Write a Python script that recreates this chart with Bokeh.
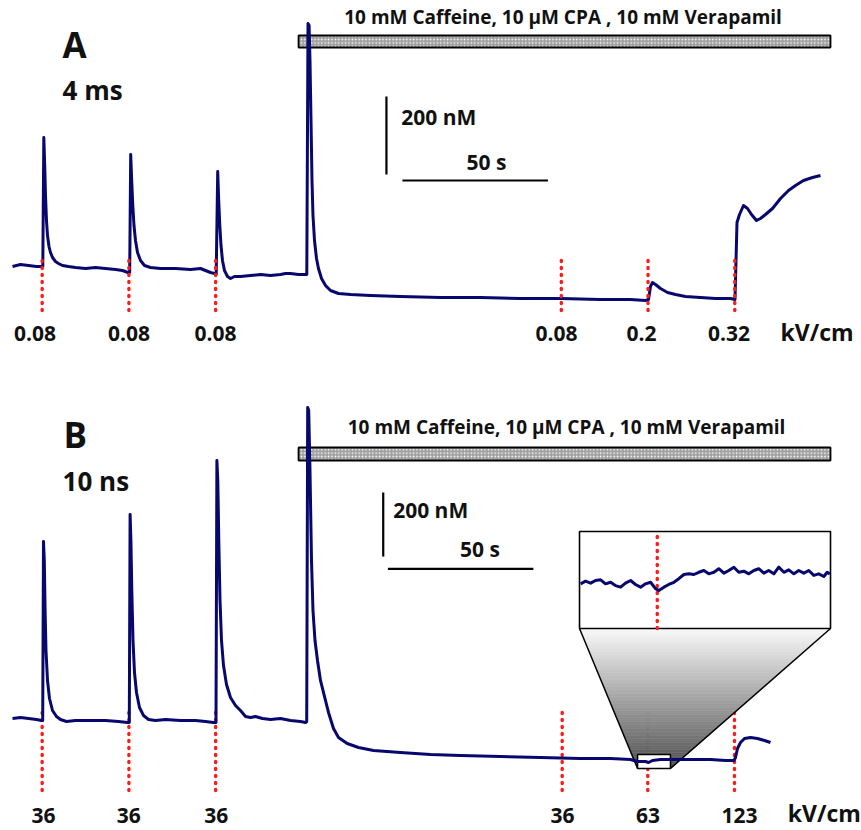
from bokeh.plotting import figure
from bokeh.layouts import column
from bokeh.models import Range1d, ColumnDataSource
from bokeh.core.properties import value
from bokeh.embed import file_html
from bokeh.resources import INLINE

# ---------------- data (time in s, [Ca2+] in nM) ----------------
A_T = [0.00, 2.75, 5.50, 8.25, 9.97, 10.41, 10.76, 11.07, 11.34, 11.68, 12.03, 12.54, 13.06, 13.75,
       14.78, 15.81, 17.18, 19.24, 21.65, 25.09, 28.52, 31.96, 35.40, 37.80, 39.69, 40.27, 40.62,
       40.96, 41.34, 41.75, 42.27, 42.96, 43.99, 45.36, 47.42, 50.86, 56.01, 61.17, 64.60, 68.04,
       69.42, 70.00, 70.52, 70.86, 71.24, 71.65, 72.16, 72.85, 73.88, 74.91, 76.29, 78.35, 81.79,
       85.22, 88.66, 92.10, 93.81, 95.53, 98.28, 100.69, 101.13, 101.55, 101.92, 102.23, 102.58,
       102.92, 103.26, 103.78, 104.47, 105.15, 106.19, 107.56, 109.28, 112.03, 116.15, 123.02,
       133.33, 147.08, 160.82, 174.57, 188.32, 202.06, 212.37, 217.53, 218.56, 219.24, 219.93,
       220.96, 222.68, 225.09, 227.84, 231.27, 236.43, 241.58, 246.74, 248.28, 248.63, 248.97,
       249.83, 251.20, 252.58, 253.95, 255.67, 257.04, 258.76, 261.17, 263.92, 266.67, 269.07,
       271.82, 274.91, 277.66]
A_CA = [150.0, 155.1, 152.6, 150.0, 150.0, 150.0, 480.8, 409.0, 332.0, 267.9, 229.5, 201.3, 185.9, 173.1,
        162.8, 157.7, 152.6, 150.0, 147.4, 144.9, 147.4, 144.9, 142.3, 139.7, 134.6, 134.6, 437.2,
        370.5, 306.4, 255.1, 216.7, 185.9, 165.4, 152.6, 147.4, 144.9, 144.9, 142.3, 144.9, 134.6,
        132.1, 129.5, 393.6, 319.2, 255.1, 203.8, 165.4, 139.7, 124.4, 119.2, 124.4, 124.4, 126.9,
        129.5, 126.9, 129.5, 132.1, 132.1, 129.5, 129.5, 129.5, 773.1, 767.9, 678.2, 524.3,
        370.5, 280.8, 216.7, 170.5, 144.9, 119.2, 101.3, 88.5, 80.8, 78.2, 75.6,
        73.1, 70.5, 70.5, 67.9, 67.9, 65.4, 65.4, 62.8, 65.4, 98.7, 109.0,
        103.8, 93.6, 83.3, 78.2, 73.1, 70.5, 67.9, 67.9, 65.4, 165.4, 262.8,
        283.3, 306.4, 298.7, 283.3, 267.9, 273.1, 283.3, 298.7, 324.4, 344.9, 357.7,
        370.5, 378.2, 383.3]

B_T = [0.00, 2.75, 5.50, 8.25, 9.97, 10.38, 10.65, 10.93, 11.20, 11.51, 12.03, 12.71, 13.75, 15.12,
       16.49, 18.56, 21.65, 26.80, 31.96, 36.43, 39.52, 40.14, 40.41, 40.69, 41.00, 41.41, 41.92,
       42.61, 43.64, 45.02, 46.74, 49.14, 52.58, 57.73, 62.89, 66.32, 69.07, 69.93, 70.24, 70.55,
       70.89, 71.31, 71.82, 72.51, 73.54, 74.91, 76.63, 78.35, 80.07, 81.79, 83.51, 85.91, 88.66,
       92.10, 95.53, 98.97, 100.69, 101.10, 101.44, 101.79, 102.23, 102.75, 103.26, 103.95,
       104.81, 105.84, 106.97, 108.59, 110.31, 112.03, 115.02, 118.90, 124.05, 133.33, 143.64,
       153.95, 167.70, 181.44, 195.19, 205.50, 212.37, 214.78, 217.53, 218.56, 219.93, 222.68,
       226.12, 233.00, 239.86, 245.02, 247.94, 248.45, 249.14, 250.17, 251.55, 253.61, 256.01,
       258.42, 260.48]
B_CA = [200.0, 203.1, 200.0, 196.9, 193.8, 193.8, 753.1, 693.8, 537.5, 412.5, 318.8, 262.5, 225.0, 206.3,
        196.9, 190.6, 193.8, 193.8, 193.8, 190.6, 187.5, 187.5, 837.5, 756.3, 600.0, 443.8, 343.8,
        281.3, 234.4, 209.4, 196.9, 193.8, 196.9, 193.8, 193.8, 190.6, 187.5, 187.5, 1006.3, 943.8,
        756.3, 568.8, 443.8, 365.6, 306.3, 265.6, 240.6, 225.0, 206.3, 203.1, 206.3, 200.0, 196.9,
        200.0, 193.8, 190.6, 187.5, 190.6, 1171.9, 1162.5, 975.0, 693.8, 537.5, 443.8,
        381.3, 318.8, 278.1, 218.8, 168.8, 140.6, 121.9, 109.4, 100.0, 93.8, 87.5,
        84.4, 81.3, 78.1, 75.0, 75.0, 71.9, 65.6, 65.6, 62.5, 68.8, 71.9,
        71.9, 71.9, 71.9, 68.8, 68.8, 78.1, 106.3, 125.0, 137.5, 140.6, 137.5,
        131.3, 125.0]

# magnified detail around the 63 kV/cm pulse (panel B)
INSET_T = [214.85, 215.07, 215.30, 215.52, 215.75, 215.97, 216.20, 216.42, 216.65, 216.87, 217.10,
           217.32, 217.55, 217.77, 218.00, 218.22, 218.37, 218.60, 218.82, 219.05, 219.27, 219.50,
           219.72, 219.95, 220.17, 220.40, 220.62, 220.85, 221.07, 221.30, 221.52, 221.75, 221.97,
           222.20, 222.42, 222.65, 222.87, 223.10, 223.32, 223.55, 223.77, 224.00, 224.22, 224.45,
           224.67, 224.90, 225.12, 225.35, 225.57, 225.80, 225.95, 226.07]
INSET_CA = [63.9, 65.1, 64.2, 65.4, 65.7, 63.9, 64.6, 63.1, 62.4, 64.2, 65.4, 63.6, 62.4, 63.9, 64.6,
            61.7, 60.9, 62.4, 63.6, 64.6, 66.2, 68.1, 68.4, 68.1, 69.1, 69.9, 68.4, 69.1, 70.7, 68.7,
            69.9, 71.4, 69.1, 69.6, 68.4, 69.9, 70.7, 68.7, 69.9, 68.4, 71.4, 69.1, 70.2, 68.4, 69.9,
            68.7, 69.9, 67.7, 68.4, 67.2, 69.1, 68.4]

STIM_A_T = [10.2, 40.0, 69.8, 188.6, 218.4, 248.2]
STIM_B_T = [10.2, 40.0, 69.8, 188.9, 218.3, 248.1]
A_LABELS = ["0.08", "0.08", "0.08", "0.08", "0.2", "0.32"]
B_LABELS = ["36", "36", "36", "36", "63", "123"]
A_LABEL_T = [7.73, 40.03, 69.76, 186.94, 216.15, 246.22]
B_LABEL_T = [10.65, 39.97, 70.03, 189.0, 218.4, 249.8]
DRUG_TEXT = "10 mM Caffeine, 10 \u00b5M CPA , 10 mM Verapamil"
UNIT_TEXT = "kV/cm"

# ---------------- layout / style ----------------
W = 860
HA, HB = 383, 446
X0 = -4.1237
X1 = X0 + W / 2.91
A_Y = (-150.0, 832.05)
B_Y = (-146.875, 1246.875)
NAVY = "#07076e"
RED = "#ff1a1a"
FONT = value("Open Sans")


def make_fig(h, yr):
    p = figure(width=W, height=h, x_range=Range1d(X0, X1), y_range=Range1d(*yr),
               output_backend="svg", toolbar_location=None,
               x_axis_location=None, y_axis_location=None, min_border=0)
    p.grid.visible = False
    p.outline_line_color = None
    p.background_fill_color = "white"
    p.border_fill_color = "white"
    return p


def lift(p, size):
    # small baseline correction (pixels -> data units)
    py = p.height / (p.y_range.end - p.y_range.start)
    return (0.3 * size + 2.0) / py


def txt(p, x, y, s, size, align="left"):
    p.text(x=[x], y=[y + lift(p, size)], text=[s], text_font=FONT, text_font_style="bold",
           text_font_size=f"{size}px", text_align=align, text_baseline="alphabetic",
           text_color="#111111")


def labels(p, xs, y, texts, size):
    src = ColumnDataSource(dict(x=xs, y=[y + lift(p, size)] * len(xs), t=texts))
    p.text(x="x", y="y", text="t", source=src, text_font=FONT, text_font_style="bold",
           text_font_size=f"{size}px", text_align="center", text_baseline="alphabetic",
           text_color="#111111")


def drug_bar(p, bottom, top):
    p.quad(left=[98.3], right=[281.1], bottom=[bottom], top=[top],
           fill_color="#a0a0a0", hatch_pattern="dot", hatch_color="white",
           hatch_scale=3.4, hatch_weight=2.4, line_color="black", line_width=1.8)


def stim_lines(p, xs, y0, y1, **kw):
    p.segment(x0=xs, y0=[y0] * len(xs), x1=xs, y1=[y1] * len(xs), line_color=RED,
              line_width=3.4, line_dash="1 6", line_cap="round", **kw)


# ---------------- panel A ----------------
pA = make_fig(HA, A_Y)
drug_bar(pA, 711.5, 742.3)
txt(pA, 189.2, 770.5, DRUG_TEXT, 19, "center")
pA.line(A_T, A_CA, line_width=3.0, line_color=NAVY, line_join="round")
stim_lines(pA, STIM_A_T, 37.2, 178.2)
pA.segment(x0=[128.5, 134.0], y0=[386.0, 370.5], x1=[128.5, 184.0], y1=[586.0, 370.5],
           line_color="black", line_width=2.2)
txt(pA, 133.6, 512.8, "200 nM", 21)
txt(pA, 156.0, 396.1, "50 s", 21)
txt(pA, 17.2, 685.9, "A", 35)
txt(pA, 17.2, 578.2, "4 ms", 26)
labels(pA, A_LABEL_T, -44.1, A_LABELS, 21)
txt(pA, 276.5, -39.7, UNIT_TEXT, 23, "center")

# ---------------- panel B ----------------
pB = make_fig(HB, B_Y)
drug_bar(pB, 1006.3, 1046.9)
txt(pB, 190.4, 1087.5, DRUG_TEXT, 19, "center")
stim_lines(pB, STIM_B_T, -25.0, 234.4)

# inset geometry (main-panel data coordinates)
BOX_T0, BOX_T1, BOX_C0, BOX_C1 = 214.8, 226.1, 43.75, 87.5       # zoomed window
INS_T0, INS_T1, INS_C0, INS_C1 = 194.85, 281.1, 481.3, 784.4     # inset frame

N = 60
for i in range(N):
    f0, f1 = i / N, (i + 1) / N
    ya = INS_C0 + (BOX_C0 - INS_C0) * f0
    yb = INS_C0 + (BOX_C0 - INS_C0) * f1
    la = INS_T0 + (BOX_T0 - INS_T0) * f0
    lb = INS_T0 + (BOX_T0 - INS_T0) * f1
    ra = INS_T1 + (BOX_T1 - INS_T1) * f0
    rb = INS_T1 + (BOX_T1 - INS_T1) * f1
    g = int(250 - (250 - 80) * (f0 + f1) / 2)
    col = "#%02x%02x%02x" % (g, g, g)
    pB.patch([la, ra, rb, lb], [ya, ya, yb, yb], fill_color=col, line_color=col, line_width=0.6)
pB.segment(x0=[INS_T0, INS_T1], y0=[INS_C0, INS_C0], x1=[BOX_T0, BOX_T1], y1=[BOX_C0, BOX_C0],
           line_color="black", line_width=1.5)
pB.quad(left=[BOX_T0], right=[BOX_T1], bottom=[BOX_C0], top=[BOX_C1], fill_color="white",
        line_color="black", line_width=1.5)

pB.line(B_T, B_CA, line_width=3.0, line_color=NAVY, line_join="round")

pB.quad(left=[INS_T0], right=[INS_T1], bottom=[INS_C0], top=[INS_C1], fill_color="white",
        line_color="black", line_width=1.6)

# extra ranges mapping the zoomed window onto the inset frame
px_s = W / (X1 - X0)
py_n = HB / (B_Y[1] - B_Y[0])
l_px, r_px = (INS_T0 - X0) * px_s, (INS_T1 - X0) * px_s
b_px, t_px = (INS_C0 - B_Y[0]) * py_n, (INS_C1 - B_Y[0]) * py_n
sx = (r_px - l_px) / (BOX_T1 - BOX_T0)
sy = (t_px - b_px) / (BOX_C1 - BOX_C0)
ix0 = BOX_T0 - l_px / sx
iy0 = BOX_C0 - b_px / sy
pB.extra_x_ranges = {"inset": Range1d(ix0, ix0 + W / sx)}
pB.extra_y_ranges = {"inset": Range1d(iy0, iy0 + HB / sy)}
stim_lines(pB, [STIM_B_T[4]], BOX_C0, BOX_C1, x_range_name="inset", y_range_name="inset")
pB.line(INSET_T, INSET_CA, line_width=3.0, line_color=NAVY, line_join="round",
        x_range_name="inset", y_range_name="inset")

pB.segment(x0=[127.4, 129.0], y0=[706.0, 667.8], x1=[127.4, 179.0], y1=[906.0, 667.8],
           line_color="black", line_width=2.2)
txt(pB, 130.8, 826.0, "200 nM", 21)
txt(pB, 153.8, 703.0, "50 s", 21)
txt(pB, 17.5, 1046.9, "B", 35)
txt(pB, 17.2, 912.5, "10 ns", 26)
labels(pB, B_LABEL_T, -129.7, B_LABELS, 21)
txt(pB, 279.0, -124.0, UNIT_TEXT, 23, "center")

layout = column(pA, pB, spacing=0)
open("out.html", "w").write(file_html(layout, INLINE))
